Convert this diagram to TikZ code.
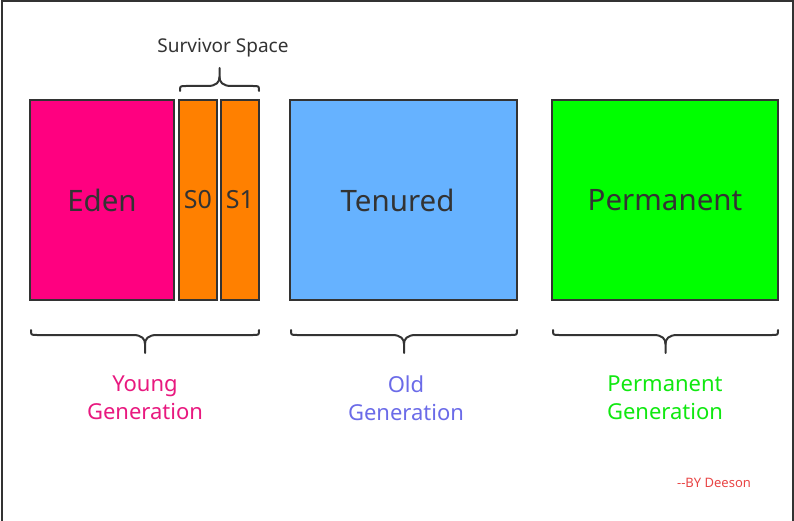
\documentclass[tikz,border=0pt]{standalone}
\usepackage{fontspec}
\setmainfont{Noto Sans}
\definecolor{edenc}{HTML}{FF0080}
\definecolor{survc}{HTML}{FF8000}
\definecolor{tenc}{HTML}{66B2FF}
\definecolor{permc}{HTML}{00FF00}
\definecolor{youngtxt}{HTML}{E8197F}
\definecolor{oldtxt}{HTML}{6B6BE8}
\definecolor{permtxt}{HTML}{10E810}
\definecolor{signtxt}{HTML}{E84545}
\definecolor{ink}{HTML}{333333}
\tikzset{
  area/.style={draw=ink, line width=2pt, minimum height=200pt, inner sep=0pt,
    text=ink, font=\fontsize{29.5}{32}\selectfont},
  gen/.style={align=center, font=\fontsize{22}{28}\selectfont},
  bracepath/.style={draw=ink, line width=2pt, line cap=round, line join=round}
}
% brace: left x, right x, y of the ends, direction (1 = down, -1 = up)
\newcommand\gbrace[4]{%
  \draw[bracepath] (#1,#3) .. controls (#1,{#3+#4*5}) .. ({#1+6},{#3+#4*5})
    -- ({(#1+#2)/2-12},{#3+#4*5}) .. controls ({(#1+#2)/2-3},{#3+#4*5}) and ({(#1+#2)/2},{#3+#4*9}) .. ({(#1+#2)/2},{#3+#4*14})
    -- ({(#1+#2)/2},{#3+#4*23});
  \draw[bracepath] (#2,#3) .. controls (#2,{#3+#4*5}) .. ({#2-6},{#3+#4*5})
    -- ({(#1+#2)/2+12},{#3+#4*5}) .. controls ({(#1+#2)/2+3},{#3+#4*5}) and ({(#1+#2)/2},{#3+#4*9}) .. ({(#1+#2)/2},{#3+#4*14});
}
\begin{document}
\begin{tikzpicture}[x=1pt, y=-1pt]
  \useasboundingbox (0,0) rectangle (794,521);
  % frame
  \draw[ink, line width=2pt] (1.5,540) -- (1.5,1.5) -- (792.5,1.5) -- (792.5,540);

  % heap areas
  \node[area, fill=edenc, minimum width=144pt] (eden) at (102,200) {Eden};
  \node[area, fill=survc, minimum width=38pt, font=\fontsize{25}{28}\selectfont] (s0) at (198,200) {S0};
  \node[area, fill=survc, minimum width=38pt, font=\fontsize{25}{28}\selectfont] (s1) at (240,200) {S1};
  \node[area, fill=tenc, minimum width=227pt] (tenured) at (403.5,200) {\hspace*{-12pt}Tenured};
  \node[area, fill=permc, minimum width=226pt] (perm) at (665,200) {Permanent};

  % braces
  \gbrace{180}{259}{91}{-1}
  \gbrace{31}{259}{330}{1}
  \gbrace{291}{517}{330}{1}
  \gbrace{553}{778}{330}{1}

  \node[font=\fontsize{19}{22}\selectfont, text=ink] (survivor) at (223,48) {Survivor Space};
  \node[gen, text=youngtxt] (young) at (145,398) {Young\\Generation};
  \node[gen, text=oldtxt] (old) at (406,398) {Old\\Generation};
  \node[gen, text=permtxt] (permgen) at (665,398) {Permanent\\Generation};
  \node[font=\fontsize{13}{15}\selectfont, text=signtxt] (sign) at (714,483) {{-}{-}BY Deeson};
\end{tikzpicture}
\end{document}
